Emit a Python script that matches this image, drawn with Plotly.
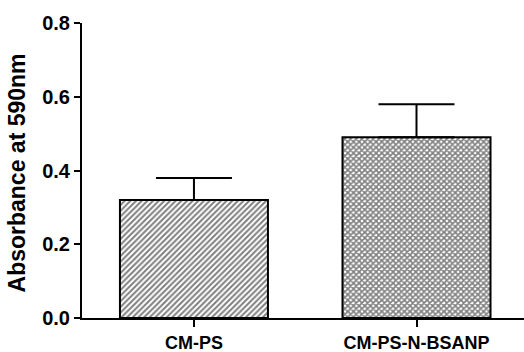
import plotly.graph_objects as go

categories = ["CM-PS", "CM-PS-N-BSANP"]
absorbance = [0.32, 0.49]
sem_upper = [0.06, 0.09]
y_ticks = [0.0, 0.2, 0.4, 0.6, 0.8]
y_title = "Absorbance at 590nm"

FONT = "Liberation Sans, Arial, sans-serif"

fig = go.Figure()
fig.add_trace(go.Bar(
    x=categories,
    y=absorbance,
    width=0.665,
    marker=dict(
        color="white",
        line=dict(color="black", width=2),
        pattern=dict(
            shape=["/", "x"],
            size=[4, 4],
            solidity=[0.5, 0.65],
            fgcolor="black",
            bgcolor="white",
            fillmode="overlay",
        ),
    ),
    error_y=dict(
        type="data",
        symmetric=False,
        array=sem_upper,
        arrayminus=[0, 0],
        color="black",
        thickness=2,
        width=38,
    ),
    showlegend=False,
    hoverinfo="skip",
))

fig.update_layout(
    template="none",
    width=524,
    height=352,
    margin=dict(l=82, r=0, t=23, b=34, autoexpand=False),
    paper_bgcolor="white",
    plot_bgcolor="white",
    font=dict(family=FONT, color="black"),
)

fig.add_annotation(
    text=y_title,
    xref="paper", yref="paper",
    x=-0.147, y=0.49,
    xanchor="center", yanchor="middle",
    textangle=-90,
    showarrow=False,
    font=dict(family=FONT, size=23, color="black", weight="bold"),
)

fig.update_xaxes(
    type="category",
    range=[-0.503, 1.483],
    automargin=False,
    showline=True,
    linecolor="black",
    linewidth=2,
    ticks="outside",
    ticklen=7,
    tickwidth=2,
    tickcolor="black",
    tickfont=dict(family=FONT, size=18, color="black", weight="bold"),
    showgrid=False,
    zeroline=False,
)

fig.update_yaxes(
    range=[0, 0.8],
    automargin=False,
    tickvals=y_ticks,
    ticktext=[f"{v:.1f}" for v in y_ticks],
    showline=True,
    linecolor="black",
    linewidth=2,
    ticks="outside",
    ticklen=6,
    tickwidth=2,
    tickcolor="black",
    tickfont=dict(family=FONT, size=20, color="black", weight="bold"),
    showgrid=False,
    zeroline=False,
)

fig.write_html(
    "out.html",
    config={"displayModeBar": False, "staticPlot": True},
    post_script="document.body.style.margin='0';document.body.style.overflow='hidden';",
)
